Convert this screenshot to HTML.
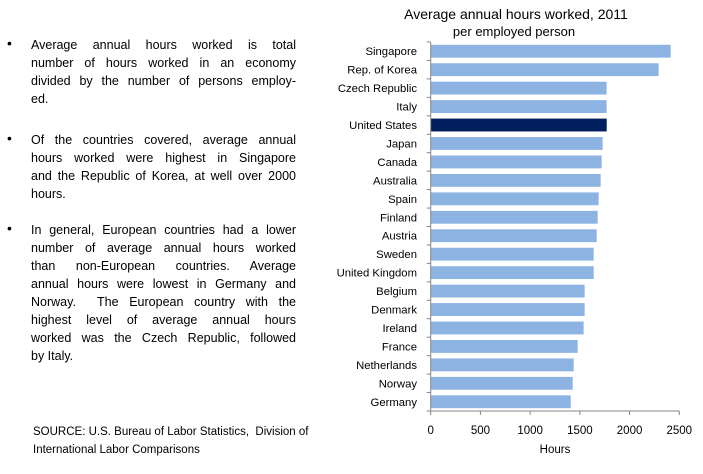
<!DOCTYPE html>
<html><head><meta charset="utf-8"><style>
body{margin:0;width:703px;height:474px;background:#fff;font-family:"Liberation Sans",sans-serif;color:#000;position:relative;overflow:hidden}
.b{position:absolute;left:31px;width:265px;font-size:12.5px;line-height:18px}
.b div{text-align:justify;text-align-last:justify;white-space:nowrap}
.b div.l{text-align-last:left}
.dot{position:absolute;left:7px;font-size:14px}
.src{position:absolute;left:33px;top:423px;font-size:11.5px;line-height:18px}
</style></head><body>
<span class="dot" style="top:35px">•</span>
<div class="b" style="top:36px"><div>Average annual hours worked is total</div><div>number of hours worked in an economy</div><div>divided by the number of persons employ-</div><div class="l">ed.</div></div>
<span class="dot" style="top:130px">•</span>
<div class="b" style="top:131px"><div>Of the countries covered, average annual</div><div>hours worked were highest in Singapore</div><div>and the Republic of Korea, at well over 2000</div><div class="l">hours.</div></div>
<span class="dot" style="top:220px">•</span>
<div class="b" style="top:221px"><div>In general, European countries had a lower</div><div>number of average annual hours worked</div><div>than non-European countries. Average</div><div>annual hours were lowest in Germany and</div><div>Norway.&nbsp; The European country with the</div><div>highest level of average annual hours</div><div>worked was the Czech Republic, followed</div><div class="l">by Italy.</div></div>
<div class="src">SOURCE: U.S. Bureau of Labor Statistics,&nbsp; Division of<br>International Labor Comparisons</div>
<svg id="c" width="703" height="474" style="position:absolute;left:0;top:0">
<text x="516" y="19" text-anchor="middle" font-size="14">Average annual hours worked, 2011</text>
<text x="514" y="36" text-anchor="middle" font-size="13">per employed person</text>
<text x="555" y="453" text-anchor="middle" font-size="11.5">Hours</text>
</svg>
<script>
const categories=["Singapore","Rep. of Korea","Czech Republic","Italy","United States","Japan","Canada","Australia","Spain","Finland","Austria","Sweden","United Kingdom","Belgium","Denmark","Ireland","France","Netherlands","Norway","Germany"];
const values=[2413,2292,1769,1769,1770,1729,1719,1709,1689,1679,1669,1639,1639,1548,1548,1538,1478,1438,1428,1408];
const ticks=[0,500,1000,1500,2000,2500];
const svg=document.getElementById('c');const NS='http://www.w3.org/2000/svg';
const x0=430.7,x1=679.3,y0=42,y1=411;
const xs=v=>x0+v/2500*(x1-x0);
const band=(y1-y0)/categories.length;
function mk(t,a){const e=document.createElementNS(NS,t);for(const k in a)e.setAttribute(k,a[k]);svg.appendChild(e);return e;}
categories.forEach((c,i)=>{
 const r=mk('rect',{x:x0,y:y0+i*band+2.8,width:xs(values[i])-x0,height:band-5.6,fill:c==="United States"?"#001F5C":"#8DB3E2"});
 
 
 const t=mk('text',{x:417,y:y0+(i+0.5)*band+4,'text-anchor':'end','font-size':11.3});
 t.textContent=c;
 
 
});
for(let i=0;i<=categories.length;i++){const l=mk('line',{x1:x0-4,x2:x0,y1:y0+i*band,y2:y0+i*band,stroke:'#868686'});
 
 }
const ya=mk('line',{x1:x0,x2:x0,y1:y0,y2:y1,stroke:'#868686'});


const xa=mk('line',{x1:x0,x2:x1,y1:y1,y2:y1,stroke:'#868686'});


ticks.forEach(v=>{const l=mk('line',{x1:xs(v),x2:xs(v),y1:y1,y2:y1+4,stroke:'#868686'});
 
 
 const t=mk('text',{x:xs(v),y:434,'text-anchor':'middle','font-size':11.5});t.textContent=v;
 
 });
</script>
</body></html>
